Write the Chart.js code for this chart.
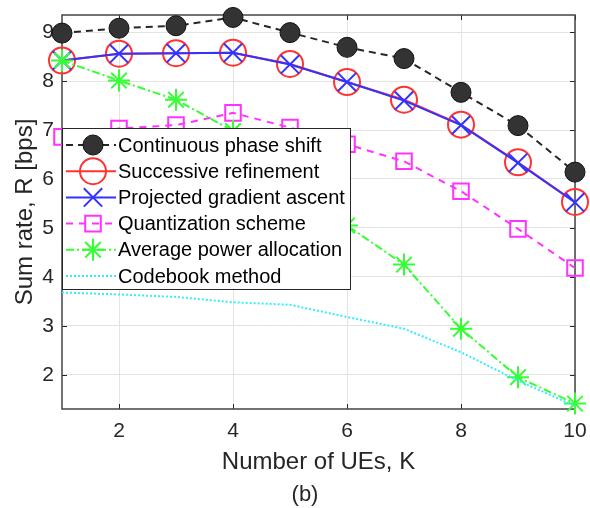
<!DOCTYPE html>
<html>
<head>
<meta charset="utf-8">
<script src="https://cdn.jsdelivr.net/npm/chart.js@4.4.0/dist/chart.umd.min.js"></script>
<style>
html,body{margin:0;padding:0;background:#fff;}
#wrap{width:590px;height:508px;position:relative;}
</style>
</head>
<body>
<div id="wrap"><canvas id="c" width="590" height="508"></canvas></div>
<script>
// ---- data ----
const K = [1, 2, 3, 4, 5, 6, 7, 8, 9, 10];
const continuousPhaseShift = [8.98, 9.08, 9.13, 9.30, 8.99, 8.69, 8.46, 7.77, 7.09, 6.14];
const successiveRefinement = [8.42, 8.56, 8.57, 8.58, 8.35, 7.98, 7.62, 7.11, 6.34, 5.53];
const projectedGradient = [8.42, 8.56, 8.57, 8.58, 8.34, 7.98, 7.60, 7.10, 6.33, 5.52];
const quantizationScheme = [6.86, 7.03, 7.10, 7.35, 7.05, 6.71, 6.36, 5.75, 4.98, 4.18];
const averagePower = [8.42, 8.01, 7.62, 6.98, 6.00, 5.05, 4.25, 2.94, 1.95, 1.41];
const codebookMethod = [3.68, 3.64, 3.59, 3.48, 3.43, 3.18, 2.94, 2.46, 1.88, 1.36];
const seriesNames = ['Continuous phase shift', 'Successive refinement', 'Projected gradient ascent',
  'Quantization scheme', 'Average power allocation', 'Codebook method'];
const xTicks = [2, 4, 6, 8, 10];
const yTicks = [2, 3, 4, 5, 6, 7, 8, 9];
const xTitle = 'Number of UEs, K';
const yTitle = 'Sum rate, R [bps]';
const caption = '(b)';

const FONT = '"Liberation Sans", Arial, Helvetica, sans-serif';
const TXT = '#262626';

function pts(arr) { return K.map((k, i) => ({ x: k, y: arr[i] })); }

const datasets = [
  { label: seriesNames[0], data: pts(continuousPhaseShift), borderColor: '#262626', borderWidth: 2, borderDash: [7, 5],
    pointStyle: 'circle', pointRadius: 10, pointBackgroundColor: '#333333', pointBorderColor: '#111111', pointBorderWidth: 1, order: 6 },
  { label: seriesNames[1], data: pts(successiveRefinement), borderColor: '#ff3333', borderWidth: 2, borderDash: [],
    pointStyle: 'circle', pointRadius: 13, pointBackgroundColor: 'rgba(0,0,0,0)', pointBorderColor: '#ff3333', pointBorderWidth: 2, order: 5 },
  { label: seriesNames[2], data: pts(projectedGradient), borderColor: '#3333ff', borderWidth: 2, borderDash: [],
    pointStyle: 'crossRot', pointRadius: 13, pointBackgroundColor: 'rgba(0,0,0,0)', pointBorderColor: '#3333ff', pointBorderWidth: 2, order: 4 },
  { label: seriesNames[3], data: pts(quantizationScheme), borderColor: '#ff33ff', borderWidth: 2, borderDash: [7, 6],
    pointStyle: 'rect', pointRadius: 11, pointBackgroundColor: 'rgba(0,0,0,0)', pointBorderColor: '#ff33ff', pointBorderWidth: 2, order: 3 },
  { label: seriesNames[4], data: pts(averagePower), borderColor: '#33ff33', borderWidth: 2, borderDash: [8, 3, 2, 3],
    pointStyle: 'star', pointRadius: 11, pointBackgroundColor: 'rgba(0,0,0,0)', pointBorderColor: '#33ff33', pointBorderWidth: 2, order: 2 },
  { label: seriesNames[5], data: pts(codebookMethod), borderColor: '#33eeff', borderWidth: 2, borderDash: [2, 2],
    pointStyle: 'circle', pointRadius: 0, pointBackgroundColor: 'rgba(0,0,0,0)', pointBorderColor: '#33eeff', pointBorderWidth: 0, order: 1 }
];
datasets.forEach(d => { d.fill = false; d.tension = 0; d.clip = false; d.pointHoverRadius = d.pointRadius; });

function drawMarker(ctx, ds, x, y) {
  const opts = { pointStyle: ds.pointStyle, radius: ds.pointRadius, rotation: 0, borderWidth: ds.pointBorderWidth };
  if (ds.pointRadius <= 0) return;
  ctx.save();
  ctx.setLineDash([]);
  ctx.fillStyle = ds.pointBackgroundColor;
  ctx.strokeStyle = ds.pointBorderColor;
  ctx.lineWidth = ds.pointBorderWidth;
  Chart.helpers.drawPoint(ctx, opts, x, y);
  ctx.restore();
}

const framePlugin = {
  id: 'frame',
  beforeDatasetsDraw(chart) {
    const { ctx, chartArea: a, scales } = chart;
    ctx.save();
    ctx.strokeStyle = '#262626';
    ctx.lineWidth = 1;
    ctx.beginPath();
    const tl = 5;
    xTicks.forEach(v => {
      const x = Math.round(scales.x.getPixelForValue(v)) + 0.5;
      ctx.moveTo(x, a.bottom); ctx.lineTo(x, a.bottom - tl);
      ctx.moveTo(x, a.top); ctx.lineTo(x, a.top + tl);
    });
    yTicks.forEach(v => {
      const y = Math.round(scales.y.getPixelForValue(v)) + 0.5;
      ctx.moveTo(a.left, y); ctx.lineTo(a.left + tl, y);
      ctx.moveTo(a.right, y); ctx.lineTo(a.right - tl, y);
    });
    ctx.stroke();
    ctx.strokeStyle = '#444444';
    ctx.lineWidth = 1.5;
    ctx.strokeRect(a.left, a.top, a.right - a.left, a.bottom - a.top);
    ctx.restore();
  },
  afterDatasetsDraw(chart) {
    const { ctx, chartArea: a } = chart;
    ctx.save();
    // legend box
    const lx = 62, ly = 128, lw = 288, lh = 161;
    ctx.fillStyle = '#ffffff';
    ctx.fillRect(lx, ly, lw, lh);
    ctx.strokeStyle = '#262626';
    ctx.lineWidth = 1;
    ctx.strokeRect(lx + 0.5, ly + 0.5, lw, lh);
    const ds = chart.data.datasets;
    ctx.font = '20px ' + FONT;
    ctx.textBaseline = 'middle';
    ctx.textAlign = 'left';
    for (let i = 0; i < ds.length; i++) {
      const y = 145 + i * 26.2;
      ctx.save();
      ctx.strokeStyle = ds[i].borderColor;
      ctx.lineWidth = ds[i].borderWidth;
      ctx.setLineDash(ds[i].borderDash);
      ctx.beginPath();
      ctx.moveTo(66, y); ctx.lineTo(116, y);
      ctx.stroke();
      ctx.restore();
      drawMarker(ctx, ds[i], 93, y);
      ctx.fillStyle = '#000000';
      ctx.fillText(ds[i].label, 118, y + 1);
    }
    // titles
    ctx.fillStyle = TXT;
    ctx.font = '24px ' + FONT;
    ctx.textAlign = 'center';
    ctx.fillText(xTitle, (a.left + a.right) / 2, 462);
    ctx.font = '22px ' + FONT;
    ctx.fillText(caption, 305, 495);
    ctx.save();
    ctx.translate(25, (a.top + a.bottom) / 2);
    ctx.rotate(-Math.PI / 2);
    ctx.font = '24px ' + FONT;
    ctx.fillText(yTitle, 0, 0);
    ctx.restore();
    ctx.restore();
  }
};

new Chart(document.getElementById('c'), {
  type: 'line',
  data: { datasets },
  options: {
    responsive: false,
    animation: false,
    events: [],
    layout: { padding: { top: 15, right: 11, left: 0, bottom: 0 } },
    plugins: { legend: { display: false }, tooltip: { enabled: false }, title: { display: false } },
    scales: {
      x: {
        type: 'linear', min: 1, max: 10,
        afterBuildTicks: s => { s.ticks = xTicks.map(v => ({ value: v })); },
        afterFit: s => { s.height = 99; s.paddingLeft = 0; s.paddingRight = 0; },
        grid: { color: '#e3e3e3', lineWidth: 1, drawTicks: false },
        border: { display: false },
        ticks: { padding: 10, color: TXT, font: { size: 21, family: FONT }, maxRotation: 0 }
      },
      y: {
        type: 'linear', min: 1.3, max: 9.35,
        afterBuildTicks: s => { s.ticks = yTicks.map(v => ({ value: v })); },
        afterFit: s => { s.width = 62; s.paddingTop = 0; s.paddingBottom = 0; },
        grid: { color: '#e3e3e3', lineWidth: 1, drawTicks: false },
        border: { display: false },
        ticks: { padding: 8, color: TXT, font: { size: 21, family: FONT } }
      }
    }
  },
  plugins: [framePlugin]
});
</script>
</body>
</html>
